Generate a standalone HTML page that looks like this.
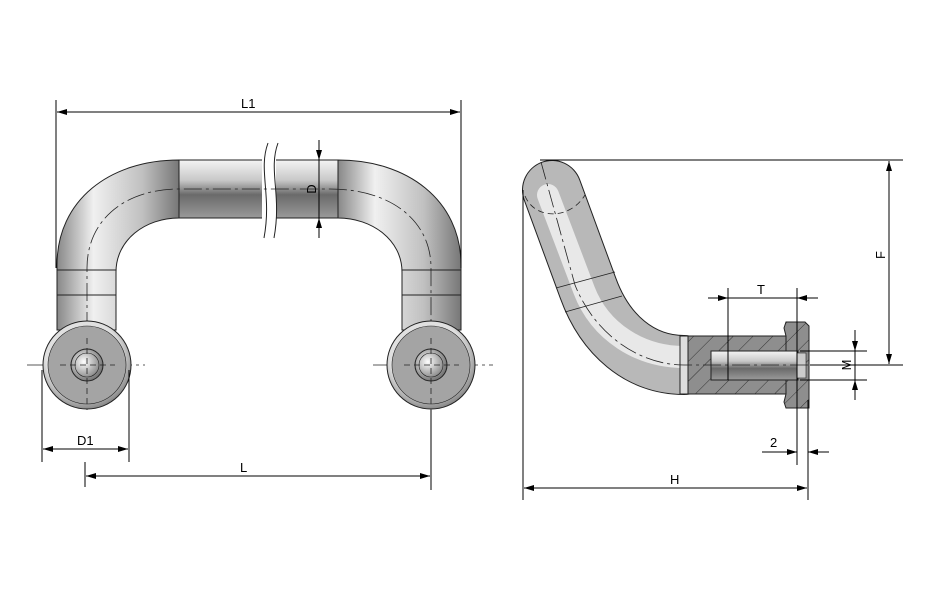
<!DOCTYPE html>
<html><head><meta charset="utf-8"><style>
html,body{margin:0;padding:0;background:#fff}
svg{display:block}
text{font-family:"Liberation Sans",sans-serif;font-size:13px;fill:#000}
</style></head><body>
<svg width="930" height="601" viewBox="0 0 930 601" xmlns="http://www.w3.org/2000/svg">
<defs>
<marker id="a" viewBox="0 0 10 6" refX="10" refY="3" markerWidth="10" markerHeight="6" orient="auto-start-reverse" markerUnits="userSpaceOnUse"><path d="M0,0L10,3L0,6z" fill="#000"/></marker>
<linearGradient id="gv" x1="0" y1="0" x2="0" y2="1"><stop offset="0" stop-color="#f4f4f4"/><stop offset="0.35" stop-color="#c8c8c8"/><stop offset="0.6" stop-color="#6a6a6a"/><stop offset="1" stop-color="#9a9a9a"/></linearGradient>
<linearGradient id="gh" x1="0" y1="0" x2="1" y2="0"><stop offset="0" stop-color="#888"/><stop offset="0.3" stop-color="#f0f0f0"/><stop offset="0.7" stop-color="#c0c0c0"/><stop offset="1" stop-color="#777"/></linearGradient>
<radialGradient id="gd" cx="0.45" cy="0.4" r="0.6"><stop offset="0.7" stop-color="#e0e0e0"/><stop offset="1" stop-color="#8a8a8a"/></radialGradient>
<radialGradient id="gho" cx="0.4" cy="0.4" r="0.6"><stop offset="0" stop-color="#fff"/><stop offset="1" stop-color="#777"/></radialGradient>
<pattern id="hat" width="14" height="14" patternUnits="userSpaceOnUse" patternTransform="rotate(45)"><rect width="14" height="14" fill="#8e8e8e"/><line x1="0" y1="0" x2="0" y2="14" stroke="#333" stroke-width="1"/></pattern>
</defs>

<g stroke="#222" stroke-width="1">
<path d="M179,160 C110,160 57,200 57,265 L57,330 L116,330 L116,272 C116,240 145,218 179,218 Z" fill="url(#gh)"/>
<path d="M338,160 C407,160 461,200 461,265 L461,330 L402,330 L402,272 C402,240 372,218 338,218 Z" fill="url(#gh)"/>
<rect x="179" y="160" width="159" height="58" fill="url(#gv)"/>
<line x1="57" y1="270" x2="116" y2="270"/><line x1="57" y1="295" x2="116" y2="295"/>
<line x1="402" y1="270" x2="461" y2="270"/><line x1="402" y1="295" x2="461" y2="295"/>
</g>
<rect x="262" y="150" width="14" height="80" fill="#fff"/>
<path d="M268,143 C258,170 272,195 264,238 M278,143 C268,170 282,195 274,238" fill="none" stroke="#222"/>
<g stroke="#222" stroke-dasharray="18,4,3,4" fill="none" stroke-width="0.8">
<path d="M87,330 L87,268 C87,220 125,189 179,189 L330,189 C390,189 431,220 431,268 L431,330"/>
<line x1="27" y1="365" x2="145" y2="365"/><line x1="373" y1="365" x2="493" y2="365"/>
<line x1="87" y1="320" x2="87" y2="410"/><line x1="431" y1="320" x2="431" y2="410"/>
</g>
<g stroke="#222">
<circle cx="87" cy="365" r="44" fill="url(#gd)"/><circle cx="87" cy="365" r="39" fill="#a4a4a4" stroke-width="0.6"/>
<circle cx="87" cy="365" r="16" fill="url(#gho)"/><circle cx="87" cy="365" r="12" fill="none" stroke-width="0.6"/>
<circle cx="431" cy="365" r="44" fill="url(#gd)"/><circle cx="431" cy="365" r="39" fill="#a4a4a4" stroke-width="0.6"/>
<circle cx="431" cy="365" r="16" fill="url(#gho)"/><circle cx="431" cy="365" r="12" fill="none" stroke-width="0.6"/>
</g>
<g stroke="#222" stroke-dasharray="6,4" stroke-width="0.8"><line x1="60" y1="365" x2="115" y2="365"/><line x1="87" y1="338" x2="87" y2="408"/><line x1="404" y1="365" x2="459" y2="365"/><line x1="431" y1="338" x2="431" y2="408"/></g>

<g stroke="#000" stroke-width="1" fill="none">
<line x1="56" y1="100" x2="56" y2="268"/><line x1="461" y1="100" x2="461" y2="268"/>
<line x1="57" y1="112" x2="460" y2="112" marker-start="url(#a)" marker-end="url(#a)"/>
<line x1="319" y1="140" x2="319" y2="160" marker-end="url(#a)"/><line x1="319" y1="238" x2="319" y2="218" marker-end="url(#a)"/>
<line x1="319" y1="160" x2="319" y2="218"/>
<line x1="42" y1="370" x2="42" y2="462"/><line x1="129" y1="370" x2="129" y2="462"/>
<line x1="43" y1="449" x2="128" y2="449" marker-start="url(#a)" marker-end="url(#a)"/>
<line x1="85" y1="462" x2="85" y2="487"/><line x1="431" y1="410" x2="431" y2="490"/>
<line x1="86" y1="476" x2="430" y2="476" marker-start="url(#a)" marker-end="url(#a)"/>
</g>
<text x="241" y="108">L1</text>
<text x="316" y="189" transform="rotate(-90 316 189)" text-anchor="middle">D</text>
<text x="77" y="445">D1</text>
<text x="240" y="472">L</text>

<path d="M552,190 L588,288 C605,335 640,365 684,365" fill="none" stroke="#222" stroke-width="60" stroke-linecap="round"/>
<path d="M552,190 L588,288 C605,335 640,365 684,365" fill="none" stroke="#b8b8b8" stroke-width="58" stroke-linecap="round"/>
<path d="M548,195 L584,290 C600,332 640,357 684,357" fill="none" stroke="#e8e8e8" stroke-width="22" stroke-linecap="round"/>
<rect x="680" y="336" width="8" height="58" fill="#fff"/>
<path d="M686,336 L797,336 L797,394 L686,394 Z" fill="url(#hat)" stroke="#222"/>
<rect x="680" y="336" width="8" height="58" fill="#ddd" stroke="#222"/>
<path d="M786,322 L805,322 L809,326 L809,408 L786,408 L784,402 L786,394 L786,336 L784,328 Z" fill="url(#hat)" stroke="#222"/>
<rect x="711" y="351" width="87" height="29" fill="url(#gv)" stroke="#222"/>
<rect x="797" y="353" width="9" height="25" fill="#ccc" stroke="#222" stroke-width="0.6"/>
<g stroke="#222" stroke-width="0.8" fill="none">
<line x1="556" y1="288" x2="615" y2="272"/><line x1="565" y1="312" x2="622" y2="296"/>
<path d="M525,196 C535,220 570,220 585,195" stroke-dasharray="6,4"/>
<path d="M541,162 L575,285 C595,335 640,365 684,365 L810,365" stroke-dasharray="18,4,3,4"/>
</g>
<g stroke="#000" stroke-width="1" fill="none">
<line x1="540" y1="160" x2="903" y2="160"/><line x1="810" y1="365" x2="903" y2="365"/>
<line x1="889" y1="161" x2="889" y2="364" marker-start="url(#a)" marker-end="url(#a)"/>
<line x1="728" y1="288" x2="728" y2="380"/><line x1="797" y1="288" x2="797" y2="465"/>
<line x1="708" y1="298" x2="728" y2="298" marker-end="url(#a)"/><line x1="818" y1="298" x2="797" y2="298" marker-end="url(#a)"/><line x1="728" y1="298" x2="797" y2="298"/>
<line x1="800" y1="351" x2="867" y2="351"/><line x1="800" y1="380" x2="867" y2="380"/>
<line x1="855" y1="330" x2="855" y2="351" marker-end="url(#a)"/><line x1="855" y1="400" x2="855" y2="380" marker-end="url(#a)"/><line x1="855" y1="351" x2="855" y2="380"/>
<line x1="808" y1="400" x2="808" y2="500"/><line x1="523" y1="190" x2="523" y2="500"/>
<line x1="762" y1="452" x2="797" y2="452" marker-end="url(#a)"/><line x1="829" y1="452" x2="808" y2="452" marker-end="url(#a)"/>
<line x1="524" y1="488" x2="807" y2="488" marker-start="url(#a)" marker-end="url(#a)"/>
</g>
<text x="885" y="255" transform="rotate(-90 885 255)" text-anchor="middle">F</text>
<text x="757" y="294">T</text>
<text x="851" y="365" transform="rotate(-90 851 365)" text-anchor="middle">M</text>
<text x="770" y="447">2</text>
<text x="670" y="484">H</text>
</svg>
</body></html>
